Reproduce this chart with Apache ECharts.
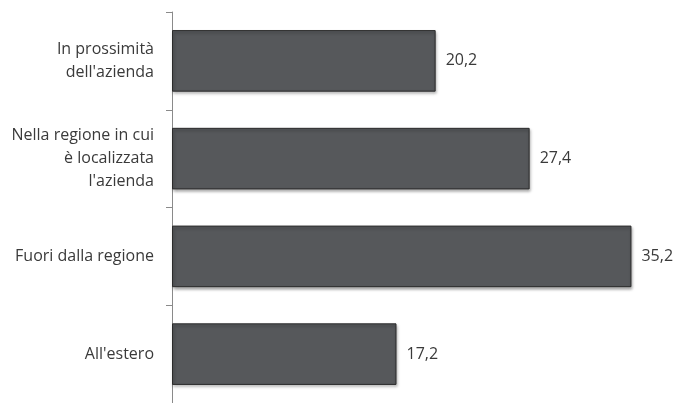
<!DOCTYPE html>
<html><head><meta charset="utf-8">
<script src="https://cdn.jsdelivr.net/npm/echarts@6/dist/echarts.min.js"></script>
<style>html,body{margin:0;padding:0;background:#fff}#c{width:675px;height:403px}</style>
</head><body><div id="c"></div>
<script>
const categories = ["In prossimità\ndell'azienda", "Nella regione in cui\nè localizzata\nl'azienda", "Fuori dalla regione", "All'estero"];
const values = [20.2, 27.4, 35.2, 17.2];

const chart = echarts.init(document.getElementById('c'));
chart.setOption({
  animation: false,
  grid: {left: 172, right: 7, top: 12, height: 394, containLabel: false},
  xAxis: {type: 'value', min: 0, max: 38, show: false},
  yAxis: {
    type: 'category', inverse: true, data: categories,
    axisLine: {lineStyle: {color: '#8a8a8a', width: 1}},
    axisTick: {show: true, length: 6, lineStyle: {color: '#8a8a8a', width: 1}},
    axisLabel: {margin: 18, color: '#3a3a3a', fontFamily: 'Open Sans', fontSize: 16, lineHeight: 23, align: 'right'}
  },
  series: [{
    type: 'bar', data: values, barCategoryGap: '37%',
    itemStyle: {color: '#56585b', borderColor: '#2b2b2b', borderWidth: 1,
      shadowColor: 'rgba(0,0,0,0.35)', shadowBlur: 3, shadowOffsetX: 1, shadowOffsetY: 2},
    label: {show: true, position: 'right', distance: 10, color: '#3a3a3a', fontFamily: 'Open Sans', fontSize: 16,
      formatter: p => String(p.value).replace('.', ',')}
  }]
});
</script></body></html>
